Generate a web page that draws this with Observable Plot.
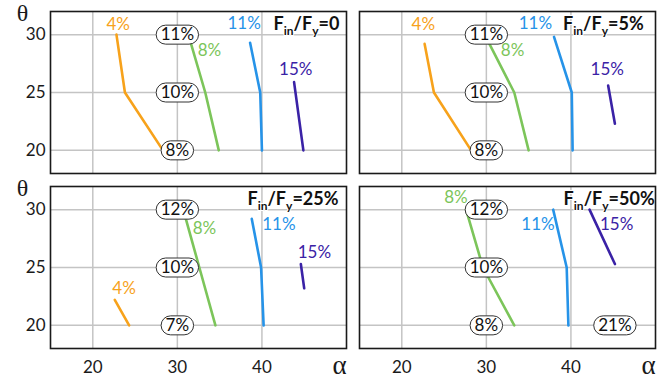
<!DOCTYPE html>
<html>
<head>
<meta charset="utf-8">
<script src="https://cdn.jsdelivr.net/npm/d3@7"></script>
<script src="https://cdn.jsdelivr.net/npm/@observablehq/plot@0.6"></script>
<style>
  body { margin: 0; background: #fff; }
  #chart svg { display: block; }
</style>
</head>
<body>
<div id="chart"></div>
<script>
// Fin/Fy ratio of each panel (row-major, 2 × 2)
const panels = ["0", "5%", "25%", "50%"];

// Contour series and their colours
const seriesNames = ["4%", "8%", "11%", "15%"];
const seriesColors = ["#f7a21b", "#7cc55a", "#2693e8", "#3a22a6"];

// Contour polylines per panel: [series, α, θ]
const curves0 = [
  ["4%", 22.8, 30], ["4%", 23.8, 25], ["4%", 28.3, 20],
  ["8%", 31.3, 30], ["8%", 33.3, 25], ["8%", 34.9, 20],
  ["11%", 38.6, 29.3], ["11%", 39.8, 25], ["11%", 40.0, 20],
  ["15%", 43.8, 25.9], ["15%", 44.9, 20]
];
const curves1 = [
  ["4%", 22.7, 29.2], ["4%", 23.8, 25], ["4%", 28.2, 20],
  ["8%", 29.8, 30], ["8%", 33.3, 25], ["8%", 35.0, 20],
  ["11%", 38.0, 29.8], ["11%", 40.1, 25], ["11%", 40.2, 20],
  ["15%", 44.4, 25.6], ["15%", 45.2, 22.3]
];
const curves2 = [
  ["4%", 22.6, 22.2], ["4%", 24.3, 20],
  ["8%", 30.7, 30], ["8%", 32.6, 25], ["8%", 34.5, 20],
  ["11%", 38.8, 29.2], ["11%", 39.9, 25], ["11%", 40.2, 20],
  ["15%", 44.6, 25.3], ["15%", 45.0, 23.2]
];
const curves3 = [
  ["8%", 27.6, 30], ["8%", 29.6, 25], ["8%", 33.3, 20],
  ["11%", 37.9, 30], ["11%", 39.5, 25], ["11%", 39.7, 20],
  ["15%", 42.2, 30], ["15%", 45.2, 25.3]
];

// Series name labels: [series, α, θ]
const seriesLabels0 = [["4%", 23.0, 30.9], ["8%", 33.8, 28.6], ["11%", 37.9, 31.0], ["15%", 44.0, 27.0]];
const seriesLabels1 = [["4%", 22.55, 30.9], ["8%", 33.1, 28.6], ["11%", 35.8, 31.0], ["15%", 44.3, 27.0]];
const seriesLabels2 = [["4%", 23.7, 23.15], ["8%", 33.2, 28.4], ["11%", 42.0, 28.7], ["15%", 46.2, 26.3]];
const seriesLabels3 = [["8%", 26.4, 31.05], ["11%", 36.1, 28.7], ["15%", 45.4, 28.7]];

// Boxed values: [text, α, θ]
const boxed0 = [["11%", 30, 30], ["10%", 30, 25], ["8%", 30, 20]];
const boxed1 = [["11%", 30, 30], ["10%", 30, 25], ["8%", 30, 20]];
const boxed2 = [["12%", 30, 30], ["10%", 30, 25], ["7%", 30, 20]];
const boxed3 = [["12%", 30, 30], ["10%", 30, 25], ["8%", 30, 20], ["21%", 45.2, 20]];

// α where each panel title ends
const titleAlpha = [49.16, 48.6, 49.05, 49.9];

const xTicks = [20, 30, 40];
const yTicks = [20, 25, 30];

const curves = [curves0, curves1, curves2, curves3];
const seriesLabels = [seriesLabels0, seriesLabels1, seriesLabels2, seriesLabels3];
const boxed = [boxed0, boxed1, boxed2, boxed3];

const rows = (tables) => tables.flatMap((t, i) =>
  t.map(([name, alpha, theta]) => ({panel: i, name, alpha, theta})));

const lineRows = rows(curves);
const labelRows = rows(seriesLabels);
const boxRows = rows(boxed);
const titleRows = panels.map((p, i) => ({panel: i, alpha: titleAlpha[i], text: `Fin/Fy=${p}`}));

const col = (d) => d.panel % 2;
const row = (d) => Math.floor(d.panel / 2);
const font = "Lato, 'Noto Sans', sans-serif";
const serif = "'Liberation Serif', 'DejaVu Serif', serif";

const chart = Plot.plot({
  width: 670,
  height: 380,
  marginLeft: 50,
  marginRight: 15,
  marginTop: 10,
  marginBottom: 32,
  style: {fontFamily: font, fontSize: "17px", color: "#1a1a1a", background: "#fff"},
  fx: {domain: [0, 1], paddingInner: 0.0421, paddingOuter: 0, axis: null},
  fy: {domain: [0, 1], paddingInner: 0.0768, paddingOuter: 0, axis: null},
  x: {domain: [15, 50]},
  y: {domain: [18, 32]},
  color: {domain: seriesNames, range: seriesColors},
  marks: [
    Plot.gridX(xTicks, {stroke: "#c4c4c4", strokeOpacity: 1, strokeWidth: 1.5}),
    Plot.gridY(yTicks, {stroke: "#c4c4c4", strokeOpacity: 1, strokeWidth: 1.5}),
    Plot.line(lineRows, {
      x: "alpha", y: "theta", z: "name", stroke: "name", fx: col, fy: row,
      strokeWidth: 2.6, strokeLinejoin: "round"
    }),
    Plot.text(boxRows, {
      x: "alpha", y: "theta", text: "name", fx: col, fy: row,
      fill: "#111", fontSize: 17, className: "boxed-value"
    }),
    Plot.text(labelRows, {
      x: "alpha", y: "theta", text: "name", fill: "name", fx: col, fy: row,
      fontSize: 17
    }),
    Plot.text(titleRows, {
      x: "alpha", text: "text", fx: col, fy: row, frameAnchor: "top",
      dy: 18, lineAnchor: "bottom", textAnchor: "end",
      fontSize: 18, fontWeight: "bold", fill: "#111",
      stroke: "#fff", strokeWidth: 2,
      className: "panel-title"
    }),
    Plot.frame({stroke: "#1a1a1a", strokeWidth: 1.6}),
    Plot.axisX(xTicks, {tickSize: 0, tickPadding: 12, fontSize: 17, label: null, fill: "#1a1a1a"}),
    Plot.axisY(yTicks, {tickSize: 0, tickPadding: 5, fontSize: 17, label: null, fill: "#1a1a1a"}),
    Plot.text(["θ"], {
      frameAnchor: "top-left", textAnchor: "middle", lineAnchor: "middle",
      dx: -28, dy: 1.5, fontSize: 24, fontFamily: serif, facetAnchor: "left"
    }),
    Plot.text(["α"], {
      frameAnchor: "bottom-right", textAnchor: "middle", lineAnchor: "middle",
      dx: -7, dy: 17, fontSize: 27, fontFamily: serif, facetAnchor: "bottom"
    })
  ]
});

document.getElementById("chart").append(chart);

// Panel titles: F with "in" and "y" subscripts
d3.select(chart).selectAll("text").filter(function () {
  return this.textContent.startsWith("Fin/Fy=");
}).each(function () {
  const value = this.textContent.replace("Fin/Fy=", "");
  const t = d3.select(this).text("");
  t.append("tspan").text("F");
  t.append("tspan").attr("font-size", 12).attr("dy", 5).text("in");
  t.append("tspan").attr("dy", -5).text("/F");
  t.append("tspan").attr("font-size", 12).attr("dy", 5).text("y");
  t.append("tspan").attr("dy", -5).text("=" + value);
});

// Rounded white capsules behind the boxed values
d3.select(chart).selectAll(".boxed-value text").each(function () {
  const bb = this.getBBox();
  const h = 19, pad = 4.5;
  d3.select(this.parentNode).insert("rect", () => this)
    .attr("transform", this.getAttribute("transform"))
    .attr("x", bb.x - pad)
    .attr("y", -h / 2)
    .attr("width", bb.width + 2 * pad)
    .attr("height", h)
    .attr("rx", h / 2)
    .attr("fill", "#fff")
    .attr("stroke", "#333")
    .attr("stroke-width", 1);
});
</script>
</body>
</html>
